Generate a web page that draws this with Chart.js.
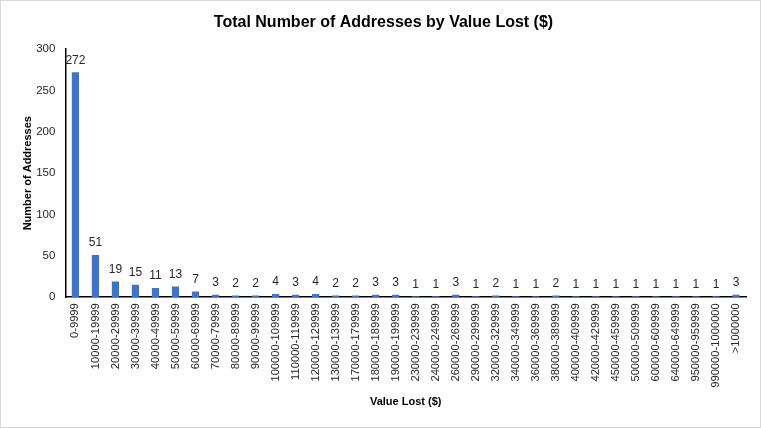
<!DOCTYPE html>
<html>
<head>
<meta charset="utf-8">
<script src="https://cdn.jsdelivr.net/npm/chart.js@4/dist/chart.umd.min.js"></script>
<style>
    html, body { margin: 0; padding: 0; background: #fff; }
    #wrap { position: relative; width: 759px; height: 426px; border: 1px solid #d9d9d9; }
</style>
</head>
<body>
<div id="wrap"><canvas id="chart"></canvas></div>
<script>
// categories and counts
const categories = [
    '0-9999', '10000-19999', '20000-29999', '30000-39999', '40000-49999',
    '50000-59999', '60000-69999', '70000-79999', '80000-89999', '90000-99999',
    '100000-109999', '110000-119999', '120000-129999', '130000-139999', '170000-179999',
    '180000-189999', '190000-199999', '230000-239999', '240000-249999', '260000-269999',
    '290000-299999', '320000-329999', '340000-349999', '360000-369999', '380000-389999',
    '400000-409999', '420000-429999', '450000-459999', '500000-509999', '600000-609999',
    '640000-649999', '950000-959999', '990000-1000000', '>1000000'
];
const addressCounts = [
    272, 51, 19, 15, 11, 13, 7, 3, 2, 2,
    4, 3, 4, 2, 2, 3, 3, 1, 1, 3,
    1, 2, 1, 1, 2, 1, 1, 1, 1, 1,
    1, 1, 1, 3
];
const yTicks = [0, 50, 100, 150, 200, 250, 300];

const FONT = 'Liberation Sans, Arial, sans-serif';

// simple value labels above each bar
const valueLabels = {
    id: 'valueLabels',
    afterDatasetsDraw(chart) {
        const ctx = chart.ctx;
        const meta = chart.getDatasetMeta(0);
        ctx.save();
        ctx.font = '12px ' + FONT;
        ctx.fillStyle = '#262626';
        ctx.textAlign = 'center';
        ctx.textBaseline = 'bottom';
        meta.data.forEach((bar, i) => {
            ctx.fillText(String(addressCounts[i]), bar.x, bar.y - 6);
        });
        ctx.restore();
    }
};

const ctx = document.getElementById('chart').getContext('2d');
new Chart(ctx, {
    type: 'bar',
    data: {
        labels: categories,
        datasets: [{
            data: addressCounts,
            backgroundColor: '#4472c4',
            barPercentage: 0.36,
            categoryPercentage: 1.0
        }]
    },
    options: {
        responsive: true,
        maintainAspectRatio: false,
        animation: false,
        layout: { padding: { left: 20, right: 14, top: 6, bottom: 18 } },
        plugins: {
            legend: { display: false },
            tooltip: { enabled: false },
            title: {
                display: true,
                text: 'Total Number of Addresses by Value Lost ($)',
                color: '#000',
                font: { family: FONT, size: 16, weight: 'bold' },
                padding: { top: 6, bottom: 17 }
            }
        },
        scales: {
            x: {
                grid: { display: false, drawTicks: false },
                border: { display: true, color: '#000', width: 1.5 },
                ticks: {
                    color: '#262626',
                    font: { family: FONT, size: 11.2 },
                    minRotation: 90,
                    maxRotation: 90,
                    autoSkip: false,
                    padding: 6
                },
                title: {
                    display: true,
                    text: 'Value Lost ($)',
                    color: '#000',
                    font: { family: FONT, size: 11, weight: 'bold' },
                    padding: { top: 2, bottom: 0 }
                }
            },
            y: {
                min: 0,
                max: 300,
                afterBuildTicks(axis) {
                    axis.ticks = yTicks.map(v => ({ value: v }));
                },
                grid: { display: false, drawTicks: false },
                border: { display: true, color: '#000', width: 1.5 },
                ticks: {
                    color: '#262626',
                    font: { family: FONT, size: 11.5 },
                    padding: 10
                },
                title: {
                    display: true,
                    text: 'Number of Addresses',
                    color: '#000',
                    font: { family: FONT, size: 11, weight: 'bold' },
                    padding: { top: 0, bottom: -8 }
                }
            }
        }
    },
    plugins: [valueLabels]
});
</script>
</body>
</html>
